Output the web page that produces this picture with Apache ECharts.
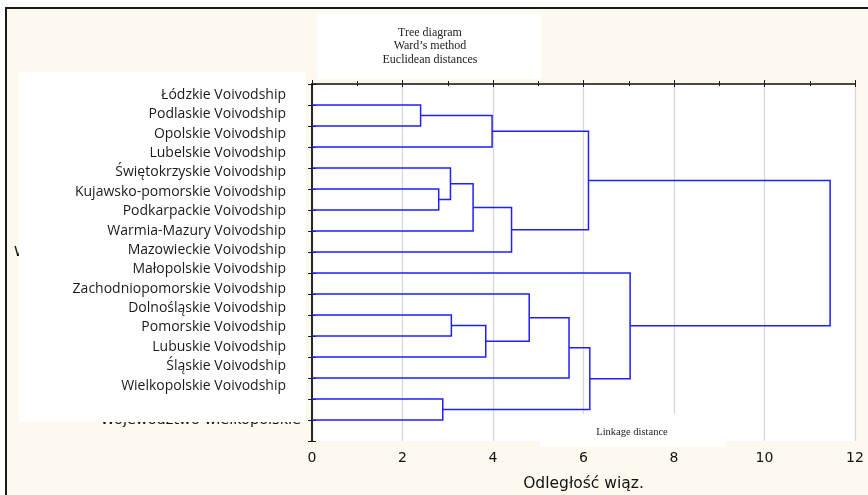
<!DOCTYPE html>
<html>
<head>
<meta charset="utf-8">
<script src="https://cdn.jsdelivr.net/npm/echarts@6/dist/echarts.min.js"></script>
<style>
  html, body { margin: 0; padding: 0; background: #ffffff; }
  #chart { width: 868px; height: 495px; }
</style>
</head>
<body>
<div id="chart"></div>
<script>
// leaf labels, top to bottom (overlay box)
var leafLabels = [
    'Łódzkie Voivodship', 'Podlaskie Voivodship', 'Opolskie Voivodship', 'Lubelskie Voivodship',
    'Świętokrzyskie Voivodship', 'Kujawsko-pomorskie Voivodship', 'Podkarpackie Voivodship',
    'Warmia-Mazury Voivodship', 'Mazowieckie Voivodship', 'Małopolskie Voivodship',
    'Zachodniopomorskie Voivodship', 'Dolnośląskie Voivodship', 'Pomorskie Voivodship',
    'Lubuskie Voivodship', 'Śląskie Voivodship', 'Wielkopolskie Voivodship'
];
var leafCount = 16;

// merges: leaves are 0..15, merge k creates node 16+k
var mergeLeft   = [0,    4,    14,   3,    10,   19,   20,   16,   21,   9,    25,   23,   26,   8,    27];
var mergeRight  = [1,    5,    15,   17,   11,   6,    12,   2,    7,    22,   13,   24,   18,   28,   29];
var mergeHeight = [2.40, 2.80, 2.89, 3.06, 3.08, 3.56, 3.84, 3.98, 4.41, 4.80, 5.68, 6.11, 6.14, 7.03, 11.45];

var xTicks = [0, 2, 4, 6, 8, 10, 12];

var myChart = echarts.init(document.getElementById('chart'));

// node positions: x = linkage height, y = leaf slot
var nodeX = [], nodeY = [];
for (var i = 0; i < leafCount; i++) {
    nodeX.push(0);
    nodeY.push(i + 1);
}
var links = [];
for (var k = 0; k < mergeHeight.length; k++) {
    var a = mergeLeft[k], b = mergeRight[k], h = mergeHeight[k];
    links.push({
        coords: [[nodeX[a], nodeY[a]], [h, nodeY[a]], [h, nodeY[b]], [nodeX[b], nodeY[b]]]
    });
    nodeX.push(h);
    nodeY.push((nodeY[a] + nodeY[b]) / 2);
}

var frameLine = { show: true, lineStyle: { color: '#1a1a1a', width: 1.5 } };
var sans = '"DejaVu Sans", Verdana, sans-serif';
var serif = '"Liberation Serif", "Times New Roman", serif';

var option = {
    animation: false,
    backgroundColor: '#ffffff',
    graphic: [
        { type: 'rect', z: -10, shape: { x: 6, y: 8, width: 880, height: 500 },
          style: { fill: '#fdf9ee', stroke: '#1a1a1a', lineWidth: 2 } },
        // original labels partly hidden by the overlay box
        { type: 'text', z: 1, x: 301, y: 420.5,
          style: { text: 'Województwo wielkopolskie', fill: '#111', font: '14.5px ' + sans,
                   textAlign: 'right', textVerticalAlign: 'middle' } },
        { type: 'text', z: 1, x: 14, y: 252,
          style: { text: 'Województwo mazowieckie', fill: '#111', font: '14.5px ' + sans,
                   textAlign: 'left', textVerticalAlign: 'middle' } },
        { type: 'rect', z: 2, shape: { x: 19, y: 72, width: 287, height: 350 }, style: { fill: '#ffffff' } },
        // title box
        { type: 'rect', z: 2, shape: { x: 317, y: 13, width: 224, height: 66 }, style: { fill: '#ffffff' } },
        { type: 'text', z: 3, x: 430, y: 46,
          style: { text: 'Tree diagram\nWard\u2019s method\nEuclidean distances', fill: '#222',
                   font: '12px ' + serif, lineHeight: 13.5,
                   textAlign: 'center', textVerticalAlign: 'middle' } },
        // linkage distance box
        { type: 'rect', z: 20, shape: { x: 540, y: 414, width: 185, height: 33 }, style: { fill: '#ffffff' } },
        { type: 'text', z: 21, x: 632, y: 432,
          style: { text: 'Linkage distance', fill: '#222', font: '10.5px ' + serif,
                   textAlign: 'center', textVerticalAlign: 'middle' } }
    ],
    grid: [
        { left: 312, top: 84, right: 13, bottom: 54, outerBoundsMode: 'none', containLabel: false,
          show: true, backgroundColor: '#ffffff', borderWidth: 0, z: -5 },
        { left: 290, top: 85.3, width: 1, height: 310, outerBoundsMode: 'none', containLabel: false }
    ],
    xAxis: [
        {
            type: 'value', gridIndex: 0, position: 'bottom', min: 0, max: 12, interval: 2,
            axisLine: frameLine,
            axisTick: { show: true, inside: true, length: 4, lineStyle: { color: '#1a1a1a' } },
            minorTick: { show: true, splitNumber: 2, length: 3, lineStyle: { color: '#1a1a1a' } },
            splitLine: { show: true, lineStyle: { color: '#d6d6d6', width: 1.2 } },
            axisLabel: { margin: 10, color: '#111', fontSize: 14, fontFamily: sans, customValues: xTicks },
            name: 'Odległość wiąz.', nameLocation: 'middle', nameGap: 35,
            nameTextStyle: { color: '#111', fontSize: 15.5, fontFamily: sans }
        },
        {
            type: 'value', gridIndex: 0, position: 'top', min: 0, max: 12, interval: 2,
            axisLine: { show: true, lineStyle: { color: '#444', width: 1.5 } },
            axisTick: { show: true, inside: true, length: 3, lineStyle: { color: '#1a1a1a' } },
            minorTick: { show: true, splitNumber: 2, length: 2, lineStyle: { color: '#1a1a1a' } },
            splitLine: { show: false },
            axisLabel: { show: false }
        },
        { type: 'value', gridIndex: 1, show: false }
    ],
    yAxis: [
        {
            type: 'value', gridIndex: 0, position: 'left', min: 0, max: 17, interval: 1, inverse: true,
            axisLine: frameLine,
            axisTick: { show: true, inside: true, length: 4, lineStyle: { color: '#1a1a1a' } },
            splitLine: { show: false },
            axisLabel: { show: false }
        },
        {
            type: 'value', gridIndex: 0, position: 'right', min: 0, max: 17, interval: 1, inverse: true,
            axisLine: frameLine,
            axisTick: { show: true, inside: true, length: 4, lineStyle: { color: '#1a1a1a' } },
            splitLine: { show: false },
            axisLabel: { show: false }
        },
        {
            type: 'category', gridIndex: 1, position: 'left', inverse: true, data: leafLabels, z: 10,
            axisLine: { show: false }, axisTick: { show: false },
            axisLabel: { margin: 4, color: '#1a1a1a', fontSize: 14,
                         fontFamily: '"Open Sans", "Noto Sans", sans-serif' }
        }
    ],
    series: [
        {
            type: 'lines',
            coordinateSystem: 'cartesian2d',
            xAxisIndex: 0,
            yAxisIndex: 0,
            polyline: true,
            silent: true,
            z: 5,
            lineStyle: { color: '#1f1fff', width: 1.5, opacity: 1 },
            data: links
        }
    ]
};

myChart.setOption(option);
</script>
</body>
</html>
